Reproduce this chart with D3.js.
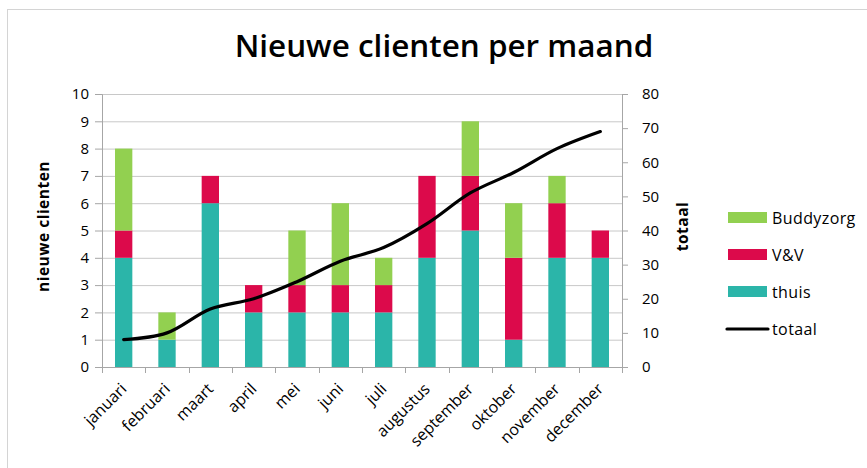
<!DOCTYPE html>
<html>
<head>
<meta charset="utf-8">
<script src="https://cdn.jsdelivr.net/npm/d3@7"></script>
<style>
  body { margin: 0; background: #fff; }
  text { font-family: "Open Sans", Lato, sans-serif; fill: #000; }
  .grid line { stroke: #c8c8c8; }
  .axis path, .axis line { stroke: #a6a6a6; }
  .axis text { font-size: 15px; }
</style>
</head>
<body>
<div id="chart"></div>
<script>
let months = ['januari', 'februari', 'maart', 'april', 'mei', 'juni', 'juli',
  'augustus', 'september', 'oktober', 'november', 'december'];
let thuis = [4, 1, 6, 2, 2, 2, 2, 4, 5, 1, 4, 4];
let venv = [1, 0, 1, 1, 1, 1, 1, 3, 2, 3, 2, 1];
let buddyzorg = [3, 1, 0, 0, 2, 3, 1, 0, 2, 2, 1, 0];
let totaal = [8, 10, 17, 20, 25, 31, 35, 42, 51, 57, 64, 69];
let leftTicks = [0, 1, 2, 3, 4, 5, 6, 7, 8, 9, 10];
let rightTicks = [0, 10, 20, 30, 40, 50, 60, 70, 80];

let keys = ['thuis', 'V&V', 'Buddyzorg'];
let colors = {'thuis': '#2bb5a9', 'V&V': '#dc0a4b', 'Buddyzorg': '#92d050'};

let W = 867, H = 468;
let margin = {top: 94, right: 245, bottom: 101, left: 102};
let width = W - margin.left - margin.right;
let height = H - margin.top - margin.bottom;

let table = months.map((m, i) => ({month: m, 'thuis': thuis[i], 'V&V': venv[i], 'Buddyzorg': buddyzorg[i]}));
let stacked = d3.stack().keys(keys)(table);

let xScale = d3.scaleBand().domain(months).range([0, width]).paddingInner(0.6).paddingOuter(0.3);
let xEdge = d3.scaleLinear().domain([0, months.length]).range([0, width]);
let yScale = d3.scaleLinear().domain([0, 10]).range([height, 0]);
let y2Scale = d3.scaleLinear().domain([0, 80]).range([height, 0]);

let root = d3.select('#chart').append('svg')
  .attr('width', W)
  .attr('height', H);

root.append('rect')
  .attr('x', 7.5).attr('y', 9.5)
  .attr('width', W).attr('height', H)
  .attr('fill', 'none')
  .attr('stroke', '#d4d4d4');

let title = root.append('text')
  .attr('x', 444).attr('y', 57)
  .attr('text-anchor', 'middle')
  .style('font-size', '28px')
  .style('font-weight', 600)
  .text('Nieuwe clienten per maand');
// fit the title to the width it has in the picture
let tw = title.node().getComputedTextLength();
title.style('font-size', (28 * 419 / tw) + 'px');

let svg = root.append('g')
  .attr('transform', 'translate(' + margin.left + ',' + margin.top + ')');

svg.append('g')
  .attr('class', 'grid')
  .selectAll('line')
  .data(leftTicks.slice(1))
  .enter().append('line')
  .attr('x1', 0).attr('x2', width)
  .attr('y1', d => yScale(d) + 0.5).attr('y2', d => yScale(d) + 0.5);

svg.append('g')
  .selectAll('g')
  .data(stacked)
  .enter().append('g')
  .attr('fill', d => colors[d.key])
  .selectAll('rect')
  .data(d => d)
  .enter().append('rect')
  .attr('x', d => xScale(d.data.month))
  .attr('y', d => yScale(d[1]))
  .attr('width', xScale.bandwidth())
  .attr('height', d => yScale(d[0]) - yScale(d[1]));

let yAxis = d3.axisLeft(yScale).tickValues(leftTicks).tickSize(7).tickPadding(6);
svg.append('g').attr('class', 'axis').call(yAxis);

let y2Axis = d3.axisRight(y2Scale).tickValues(rightTicks).tickSize(6).tickPadding(14);
svg.append('g').attr('class', 'axis')
  .attr('transform', 'translate(' + width + ',0)')
  .call(y2Axis);

// x axis: ticks on band edges, labels in band centres
let xg = svg.append('g').attr('class', 'axis')
  .attr('transform', 'translate(0,' + height + ')');
xg.append('line').attr('x1', 0).attr('x2', width).attr('y1', 0.5).attr('y2', 0.5);
xg.selectAll('.tk')
  .data(d3.range(months.length + 1))
  .enter().append('line')
  .attr('class', 'tk')
  .attr('x1', d => Math.round(xEdge(d)) + 0.5).attr('x2', d => Math.round(xEdge(d)) + 0.5)
  .attr('y1', 0).attr('y2', 6);
xg.selectAll('text')
  .data(months)
  .enter().append('text')
  .attr('text-anchor', 'end')
  .style('font-size', '16px')
  .attr('transform', d => 'translate(' + (xScale(d) + xScale.bandwidth() / 2 + 4) + ',23) rotate(-45)')
  .text(d => d);

svg.selectAll('.domain').attr('stroke', '#a6a6a6');

let line = d3.line()
  .x((d, i) => xScale(months[i]) + xScale.bandwidth() / 2)
  .y(d => y2Scale(d))
  .curve(d3.curveCatmullRom.alpha(0.5));

svg.append('path')
  .datum(totaal)
  .attr('fill', 'none')
  .attr('stroke', '#000')
  .attr('stroke-width', 3.2)
  .attr('stroke-linecap', 'round')
  .attr('d', line);

svg.append('text')
  .attr('transform', 'translate(-53,' + (height / 2 - 4) + ') rotate(-90)')
  .attr('text-anchor', 'middle')
  .style('font-size', '15.5px')
  .style('font-weight', 'bold')
  .style('letter-spacing', '0.5px')
  .text('nieuwe clienten');

svg.append('text')
  .attr('transform', 'translate(' + (width + 66) + ',' + (height / 2 - 4) + ') rotate(-90)')
  .attr('text-anchor', 'middle')
  .style('font-size', '15.5px')
  .style('font-weight', 'bold')
  .style('letter-spacing', '0.5px')
  .text('totaal');

// legend
let legendItems = ['Buddyzorg', 'V&V', 'thuis', 'totaal'];
let legend = root.append('g').attr('transform', 'translate(727,218)');
let item = legend.selectAll('g')
  .data(legendItems)
  .enter().append('g')
  .attr('transform', (d, i) => 'translate(0,' + (i * 37) + ')');
item.filter(d => d !== 'totaal').append('rect')
  .attr('x', 1).attr('y', -6)
  .attr('width', 39).attr('height', 11)
  .attr('fill', d => colors[d]);
item.filter(d => d === 'totaal').append('line')
  .attr('x1', 0).attr('x2', 41)
  .attr('stroke', '#000').attr('stroke-width', 3.2)
  .attr('stroke-linecap', 'round');
item.append('text')
  .attr('x', 45).attr('dy', '0.35em')
  .style('font-size', '16px')
  .style('letter-spacing', '0.4px')
  .text(d => d);
</script>
</body>
</html>
